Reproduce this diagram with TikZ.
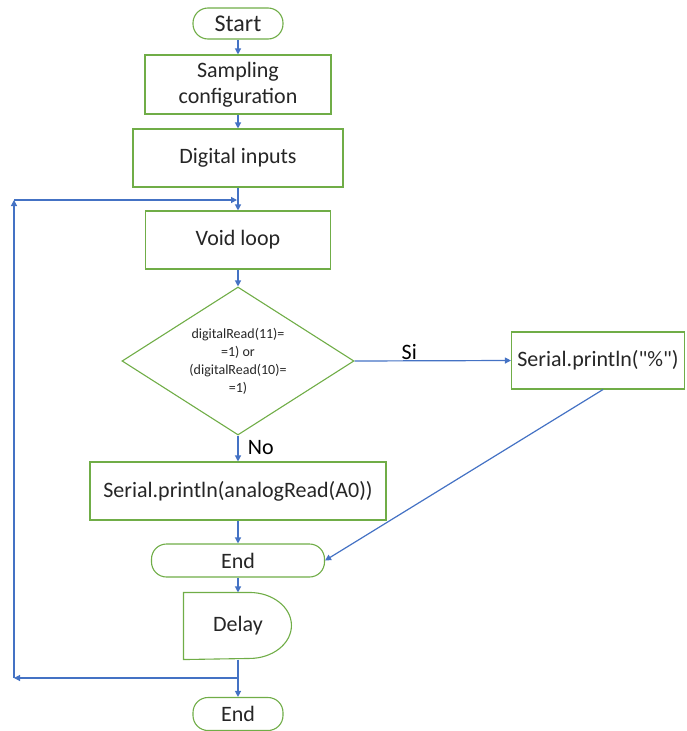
\documentclass[tikz,border=0pt]{standalone}
\usepackage{fontspec}
\setmainfont{Carlito}[Ligatures=TeXOff]
\usepackage{tikz}
\usetikzlibrary{arrows.meta,shapes.geometric}
\usetikzlibrary{calc}
\definecolor{boxgreen}{RGB}{112,173,71}
\definecolor{linkblue}{RGB}{68,114,196}
\tikzstyle{box}=[rectangle,draw=boxgreen,line width=1.1pt,fill=white,text=black!85,font=\fontsize{22}{26}\selectfont,align=center,inner sep=0pt]
\tikzstyle{terminal}=[box,rounded corners=15pt]
\tikzstyle{decision}=[diamond,draw=boxgreen,line width=1.1pt,text=black!85,shape aspect=1.5,font=\fontsize{14}{18}\selectfont,align=center,inner sep=0pt]
\tikzstyle{edge} = [draw,linkblue,line width=1.2pt,-{Triangle[length=6pt,width=6pt]}]
\tikzstyle{weight} = [font=\fontsize{22}{26}\selectfont,text=black]

\begin{document}
\begin{tikzpicture}[x=1pt,y=-1pt]

 \useasboundingbox (0,0) rectangle (686,731);

 %terminals
 \foreach \x/\y/\w/\h/\name/\label in {238/23.5/90/31/start/{\fontsize{24}{28}\selectfont Start}, 238/560.5/173/33/endA/End, 238/714/90/33/endB/End}
    \node[terminal, minimum width=\w pt, minimum height=\h pt] (\name) at (\x,\y) {\label};

 %process boxes
 \foreach \x/\y/\w/\h/\name/\label in {238/84.5/186/59/sample/{Sampling\\configuration}, 238/158/210/58/digital/Digital inputs, 238/240/185/58/void/Void loop, 598/360.5/173/57/pct/{Serial.println("\%")}, 238/491/296/58/analog/Serial.println(analogRead(A0))}
    \node[box, minimum width=\w pt, minimum height=\h pt] (\name) at (\x,\y) {\label};

 %test
 \node[decision, minimum width=232pt, minimum height=148pt] (cond) at (238,361) {digitalRead(11)=\\=1) or\\(digitalRead(10)=\\=1)};

 %delay
 \node[box, draw=none, fill=none, minimum width=108pt, minimum height=66pt] (delay) at (238,626) {Delay};
 \draw[boxgreen, line width=1.1pt] (delay.north west) -- ++(66,0) arc[start angle=90, end angle=-90, x radius=42pt, y radius=33pt] -- (delay.south west) -- cycle;

 \foreach \source/ \dest in {start/sample, sample/digital, digital/void, void/cond, analog/endA, endA/delay, delay/endB}
    \path[edge] (\source.south) -- (\dest.north);

 \path[edge] (cond.south) -- node[weight, right, pos=.45, xshift=6pt] {No} (analog.north);
 \path[edge] (cond.east) -- node[weight, above, pos=.35, inner sep=1pt] {Si} (pct.west);
 \path[edge] ([xshift=5pt]pct.south) -- (endA.east);

 %loop back
 \coordinate (j) at (238,678);
 \coordinate (c1) at (14,678);
 \coordinate (c2) at (14,200);
 \coordinate (c3) at (237,200);
 \foreach \source/ \dest in {j/c1, c1/c2, c2/c3}
    \path[edge] (\source) -- (\dest);

\end{tikzpicture}
\end{document}
